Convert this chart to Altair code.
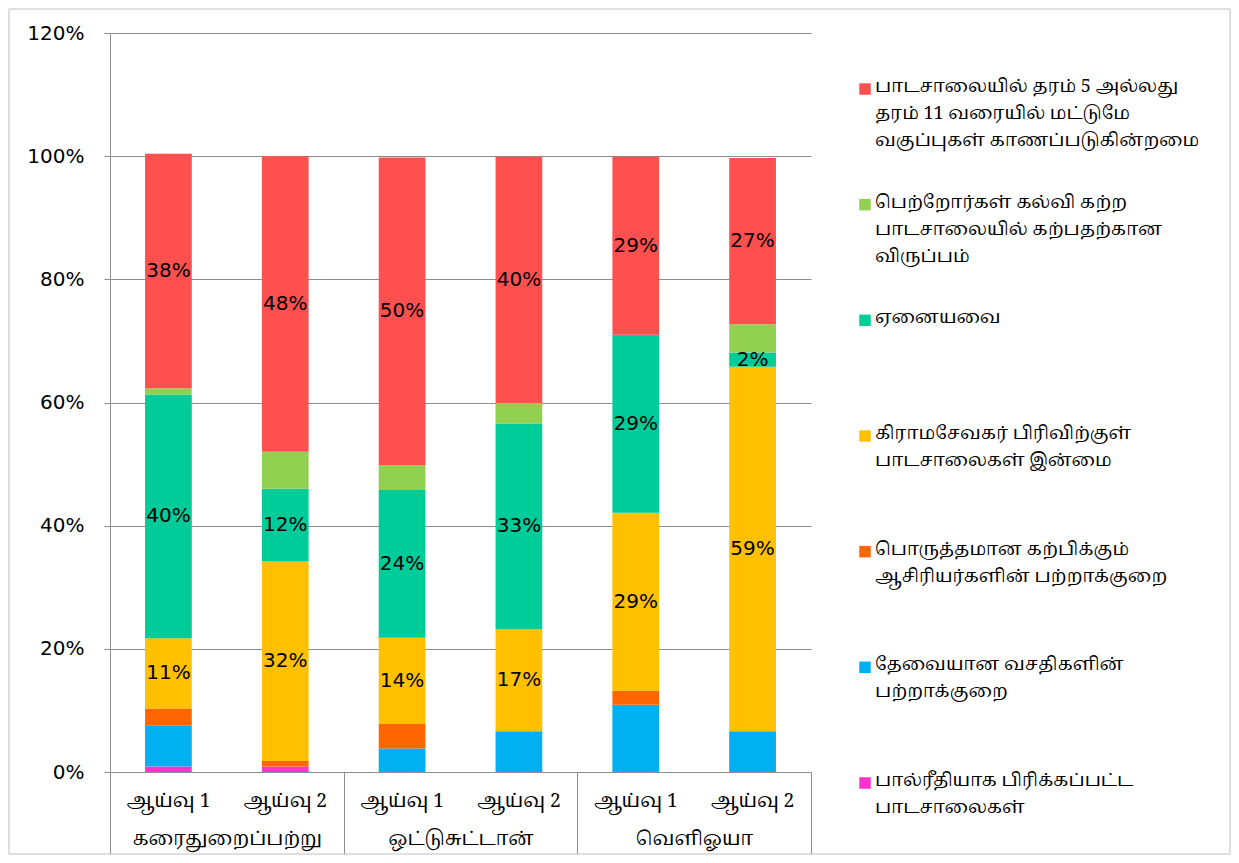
import altair as alt
import pandas as pd

# ---------------- data ----------------
districts = ["கரைதுறைப்பற்று", "ஒட்டுசுட்டான்", "வெளிஓயா"]
surveys = ["ஆய்வு 1", "ஆய்வு 2"]

# stack order: bottom first
categories = [
    "பால்ரீதியாக பிரிக்கப்பட்ட\nபாடசாலைகள்",
    "தேவையான வசதிகளின்\nபற்றாக்குறை",
    "பொருத்தமான கற்பிக்கும்\nஆசிரியர்களின் பற்றாக்குறை",
    "கிராமசேவகர் பிரிவிற்குள்\nபாடசாலைகள் இன்மை",
    "ஏனையவை",
    "பெற்றோர்கள் கல்வி கற்ற\nபாடசாலையில் கற்பதற்கான\nவிருப்பம்",
    "பாடசாலையில் தரம் 5 அல்லது\nதரம் 11 வரையில் மட்டுமே\nவகுப்புகள் காணப்படுகின்றமை",
]
colors = ["#FF33CC", "#00B0F0", "#FF6600", "#FFC000", "#00CC99", "#92D050", "#FF5050"]
labelled = [False, False, False, True, True, False, True]

# bars: (கரைதுறைப்பற்று 1, 2), (ஒட்டுசுட்டான் 1, 2), (வெளிஓயா 1, 2) -- percent
pink_vals   = [0.9, 0.9, 0.0, 0.0, 0.0, 0.0]
blue_vals   = [6.6, 0.0, 3.8, 6.6, 10.9, 6.6]
orange_vals = [2.8, 0.9, 4.0, 0.0, 2.3, 0.0]
yellow_vals = [11.4, 32.4, 14.0, 16.6, 28.9, 59.2]
teal_vals   = [39.6, 11.8, 24.0, 33.4, 28.9, 2.3]
green_vals  = [1.0, 6.0, 4.0, 3.3, 0.0, 4.6]
red_vals    = [38.1, 48.0, 50.0, 40.0, 28.9, 27.0]
series = [pink_vals, blue_vals, orange_vals, yellow_vals, teal_vals, green_vals, red_vals]

y_ticks = [0, 0.2, 0.4, 0.6, 0.8, 1.0, 1.2]

# ---------------- tables ----------------
bar_keys = [(d, s) for d in districts for s in surveys]
rows = []
for ci, (cat, vals) in enumerate(zip(categories, series)):
    for (d, s), v in zip(bar_keys, vals):
        if v > 0:
            rows.append({"district": d, "survey": s, "cat": cat, "order": ci,
                         "value": v / 100.0, "labelled": labelled[ci]})
df = pd.DataFrame(rows)
pairs = pd.DataFrame([{"district": d, "survey": s} for d, s in bar_keys])
legend_df = pd.DataFrame({"cat": categories[::-1], "item": list(range(len(categories)))})

W, H = 701, 739
GRID = "#8C8C8C"
SANS = "DejaVu Sans"
TAMIL = "'Noto Serif Tamil', 'Noto Sans Tamil', 'Lohit Tamil', 'Latha', serif"

X = alt.X("district:N", sort=districts, title=None,
          scale=alt.Scale(paddingInner=0, paddingOuter=0),
          axis=alt.Axis(tickBand="extent", tickSize=82, tickColor=GRID, domainColor=GRID,
                        labelPadding=-16, labelBaseline="middle", labelAngle=0, labelLimit=400,
                        labelFont=TAMIL, labelFontSize=19, labelColor="black", grid=False))
XO = alt.XOffset("survey:N", sort=surveys,
                 scale=alt.Scale(paddingInner=0.6, paddingOuter=0.3))
color = alt.Color("cat:N", scale=alt.Scale(domain=categories, range=colors), legend=None)

base = alt.Chart(df).transform_stack(
    stack="value", groupby=["district", "survey"], as_=["y0", "y1"],
    sort=[alt.SortField("order", order="ascending")])

bars = base.mark_bar().encode(
    x=X, xOffset=XO,
    y=alt.Y("y0:Q", title=None,
            scale=alt.Scale(domain=[0, 1.2], nice=False),
            axis=alt.Axis(values=y_ticks, format=".0%", grid=True, gridColor=GRID,
                          domainColor=GRID, tickColor=GRID, tickSize=6, labelPadding=20,
                          labelFont=SANS, labelFontSize=20, labelColor="black")),
    y2="y1:Q",
    color=color,
)

labels = base.transform_filter("datum.labelled").transform_calculate(
    mid="(datum.y0 + datum.y1) / 2"
).mark_text(font=SANS, fontSize=20, color="black").encode(
    x=X, xOffset=XO, y="mid:Q", text=alt.Text("value:Q", format=".0%"))

survey_text = alt.Chart(pairs).mark_text(font=TAMIL, fontSize=19, color="black").encode(
    x=X, xOffset=XO, y=alt.value(H + 29), text="survey:N")

border = alt.Chart(pd.DataFrame({"k": [0]})).mark_rect(
    fillOpacity=0, stroke="#BFBFBF", strokeWidth=1).encode(
    x=alt.value(-101), x2=alt.value(W + 419), y=alt.value(-24), y2=alt.value(H + 82))

leg_y = alt.Y("item:O", axis=None, scale=alt.Scale(type="point", range=[56, 750], padding=0))
legend_sq = alt.Chart(legend_df).mark_square(size=132, opacity=1).encode(
    x=alt.value(W + 54), y=leg_y, color=color)
legend_txt = alt.Chart(legend_df).mark_text(
    align="left", baseline="top", lineBreak="\n", lineHeight=27, dy=-11,
    font=TAMIL, fontSize=18, color="black").encode(
    x=alt.value(W + 64), y=leg_y, text="cat:N")

main = alt.layer(border, bars, labels, survey_text)
chart = alt.layer(main, legend_sq, legend_txt).resolve_scale(y="independent").properties(
    width=W, height=H, padding=0, background="white"
).configure_view(stroke=None)

chart.save("out.html", embed_options={"renderer": "svg", "actions": False})
